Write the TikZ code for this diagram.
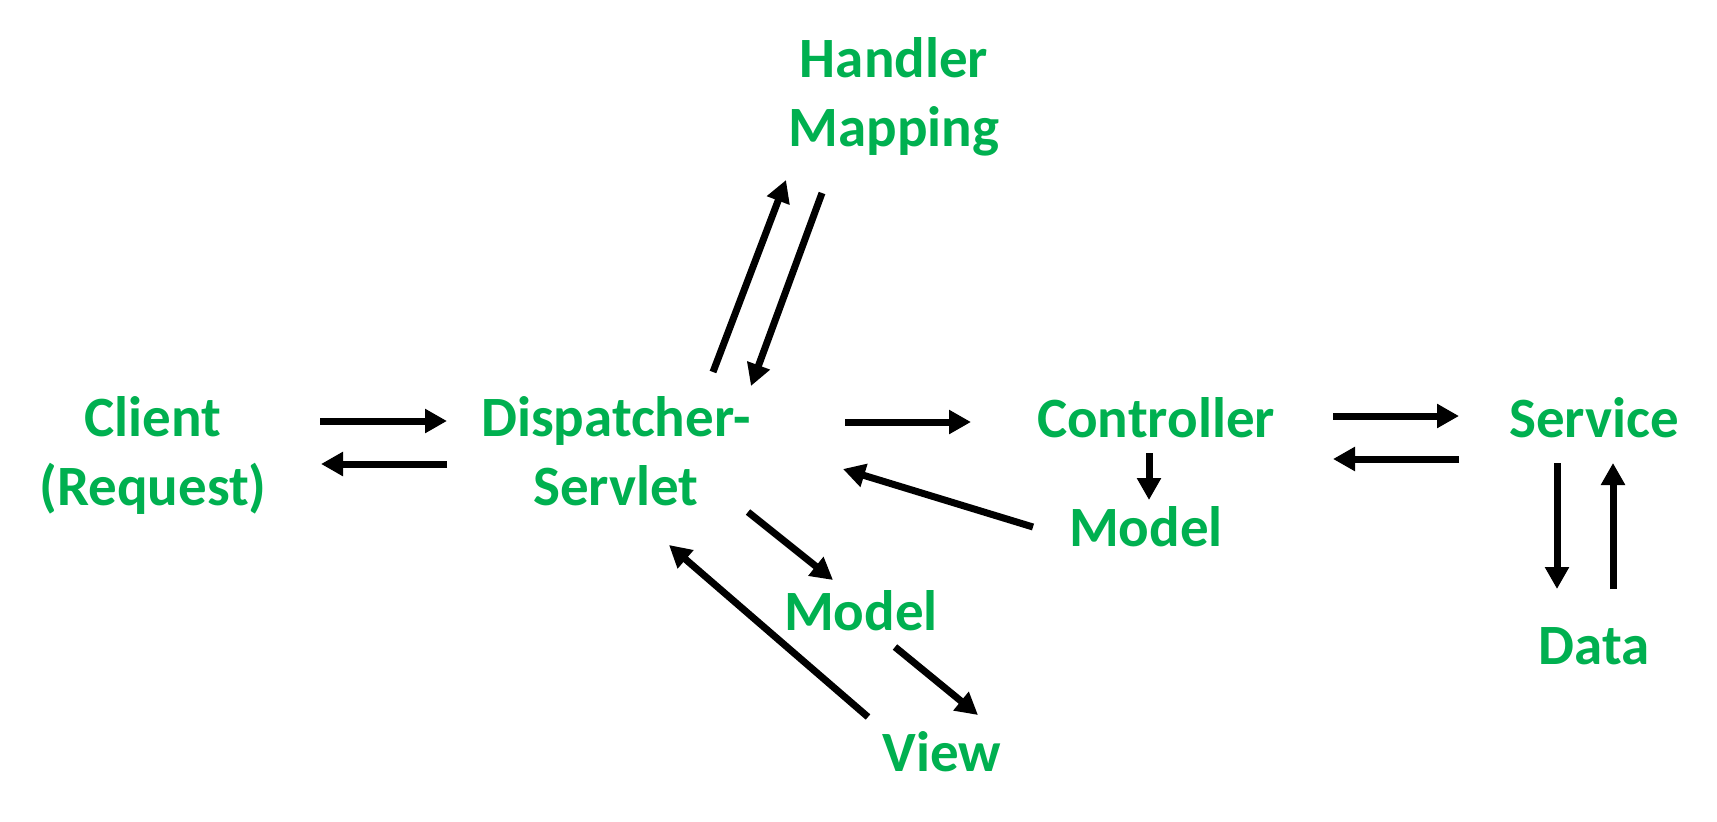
\documentclass[tikz,border=0pt]{standalone}
\usepackage{fontspec}
\setmainfont{Carlito}
\usetikzlibrary{arrows.meta}
\definecolor{lbl}{HTML}{00B050}
\tikzset{
  lab/.style={text=lbl, font=\bfseries\fontsize{57}{69}\selectfont, align=center, inner sep=0pt, anchor=base},
  conn/.style={line width=7pt, -{Triangle[length=22pt,width=23pt]}}
}
\begin{document}
\begin{tikzpicture}[x=1pt,y=-1pt]
\useasboundingbox (0,0) rectangle (1717,822);
% nodes
\node[lab] (hm) at (894,146) {Handler\\Mapping};
\node[lab] (client) at (153,505) {Client\\(Request)};
\node[lab] (ds) at (616,505) {Dispatcher-\\Servlet};
\node[lab] (ctrl) at (1156,437) {Controller};
\node[lab] (model1) at (1146,546) {Model};
\node[lab] (svc) at (1594,437) {Service};
\node[lab] (data) at (1594,664) {Data};
\node[lab] (model2) at (861,630) {Model};
\node[lab] (view) at (942,771) {View};
% connector end points
\coordinate (c1a) at (320,421);  \coordinate (c1b) at (447,421);
\coordinate (c2a) at (447,464);  \coordinate (c2b) at (321,464);
\coordinate (h1a) at (713,372);  \coordinate (h1b) at (786,180);
\coordinate (h2a) at (822,193);  \coordinate (h2b) at (751,386);
\coordinate (d1a) at (845,422);  \coordinate (d1b) at (971,422);
\coordinate (m1a) at (1033,527); \coordinate (m1b) at (843,469);
\coordinate (cm1) at (1149,453); \coordinate (cm2) at (1149,500);
\coordinate (s1a) at (1333,416); \coordinate (s1b) at (1459,416);
\coordinate (s2a) at (1459,459); \coordinate (s2b) at (1333,459);
\coordinate (t1a) at (1557,463); \coordinate (t1b) at (1557,589);
\coordinate (t2a) at (1613,589); \coordinate (t2b) at (1613,463);
\coordinate (v1a) at (748,512);  \coordinate (v1b) at (833,580);
\coordinate (v2a) at (895,647);  \coordinate (v2b) at (978,715);
\coordinate (v3a) at (868,717);  \coordinate (v3b) at (669,545);
% connectors
\draw[conn] (c1a) -- (c1b);
\draw[conn] (c2a) -- (c2b);
\draw[conn] (h1a) -- (h1b);
\draw[conn] (h2a) -- (h2b);
\draw[conn] (d1a) -- (d1b);
\draw[conn] (m1a) -- (m1b);
\draw[conn] (cm1) -- (cm2);
\draw[conn] (s1a) -- (s1b);
\draw[conn] (s2a) -- (s2b);
\draw[conn] (t1a) -- (t1b);
\draw[conn] (t2a) -- (t2b);
\draw[conn] (v1a) -- (v1b);
\draw[conn] (v2a) -- (v2b);
\draw[conn] (v3a) -- (v3b);
\end{tikzpicture}
\end{document}
